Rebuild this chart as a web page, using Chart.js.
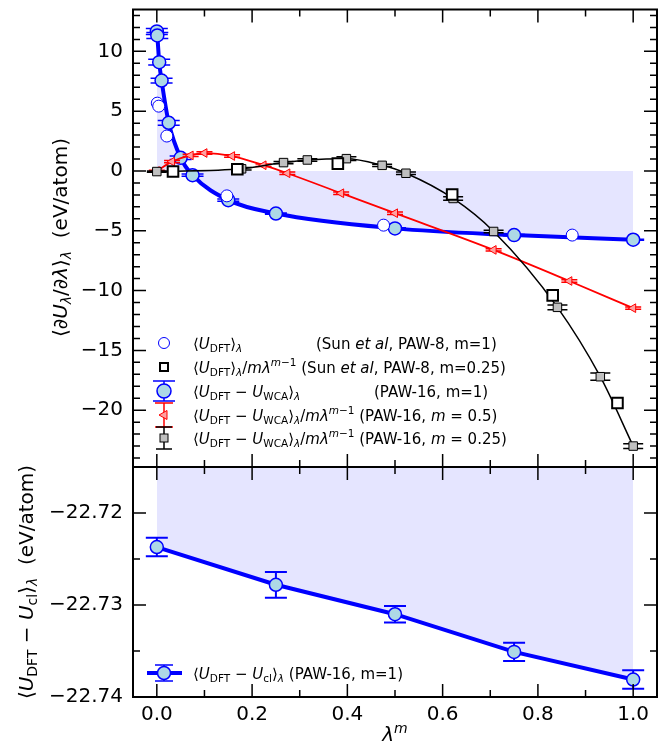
<!DOCTYPE html>
<html>
<head>
<meta charset="utf-8">
<script src="https://cdn.jsdelivr.net/npm/chart.js@4.4.1/dist/chart.umd.min.js"></script>
<style>
html, body { margin: 0; padding: 0; background: #fff; }
#wrap { position: relative; width: 671px; height: 746px; }
#top { position: absolute; left: 0; top: 0; }
#bot { position: absolute; left: 0; top: 440px; }
</style>
</head>
<body>
<div id="wrap">
  <canvas id="top" width="671" height="480"></canvas>
  <canvas id="bot" width="671" height="306"></canvas>
</div>
<script>
// ─── Data ─────────────────────────────────────────────────────
// x axis is lambda^m
const X_TICKS = [0, 0.2, 0.4, 0.6, 0.8, 1.0];
const X_MINOR = [0.1, 0.3, 0.5, 0.7, 0.9];
const TOP_Y_TICKS = [-20, -15, -10, -5, 0, 5, 10];
const BOT_Y_TICKS = [-22.74, -22.73, -22.72];
const BOT_Y_MINOR = [-22.735, -22.725];

// <U_DFT>_lambda, Sun et al, PAW-8, m=1 (open circles)
const SUN_M1_X = [0.001, 0.004, 0.021, 0.147, 0.476, 0.872];
const SUN_M1_Y = [5.67, 5.42, 2.92, -2.08, -4.53, -5.36];

// <U_DFT>/m lambda^(m-1), Sun et al, PAW-8, m=0.25 (open squares)
const SUN_M025_X = [0.034, 0.169, 0.38, 0.62, 0.831, 0.967];
const SUN_M025_Y = [-0.05, 0.14, 0.61, -1.97, -10.4, -19.4];

// <U_DFT - U_WCA>_lambda, PAW-16, m=1
const WCA_M1_X = [0, 0.001, 0.005, 0.01, 0.025, 0.05, 0.075, 0.15, 0.25, 0.5, 0.75, 1.0];
const WCA_M1_Y = [11.67, 11.33, 9.1, 7.56, 4.03, 1.1, -0.35, -2.44, -3.56, -4.8, -5.36, -5.75];
const WCA_M1_ERR = [0.25, 0.25, 0.25, 0.2, 0.2, 0.15, 0.1, 0.1, 0.05, 0.05, 0.05, 0.05];

// <U_DFT - U_WCA>/m lambda^(m-1), PAW-16, m=0.5
const WCA_M05_X = [0, 0.032, 0.071, 0.1, 0.158, 0.224, 0.274, 0.387, 0.5, 0.707, 0.866, 1.0];
const WCA_M05_Y = [0, 0.78, 1.3, 1.5, 1.25, 0.48, -0.19, -1.86, -3.53, -6.6, -9.2, -11.47];
const WCA_M05_ERR = [0.05, 0.1, 0.1, 0.1, 0.1, 0.1, 0.1, 0.1, 0.1, 0.1, 0.1, 0.1];

// <U_DFT - U_WCA>/m lambda^(m-1), PAW-16, m=0.25
const WCA_M025_X = [0, 0.178, 0.266, 0.316, 0.398, 0.473, 0.523, 0.622, 0.707, 0.841, 0.931, 1.0];
const WCA_M025_Y = [-0.05, 0.18, 0.7, 0.92, 1.03, 0.47, -0.19, -2.3, -5.06, -11.4, -17.2, -23.0];
const WCA_M025_ERR = [0.05, 0.1, 0.1, 0.1, 0.15, 0.1, 0.1, 0.15, 0.1, 0.2, 0.3, 0.2];

// shaded integral area, top panel
const FILL_X = [0, 0.01, 0.025, 0.05, 0.075, 0.15, 0.25, 0.5, 0.75, 1.0];
const FILL_Y = [6.9, 7.56, 4.03, 1.1, -0.35, -2.44, -3.56, -4.8, -5.36, -5.75];

// <U_DFT - U_cl>_lambda, PAW-16, m=1 (bottom panel)
const CL_X = [0, 0.25, 0.5, 0.75, 1.0];
const CL_Y = [-22.7237, -22.7278, -22.731, -22.7351, -22.7381];
const CL_ERR = [0.001, 0.0014, 0.0009, 0.001, 0.001];

// ─── Helpers ──────────────────────────────────────────────────
const FONT = "'DejaVu Sans'";
Chart.defaults.font.family = FONT;
const BLUE = '#0000ff', LIGHTBLUE = '#add8e6', RED = '#ff0000', PINK = '#ffa0a0', SILVER = '#c0c0c0';

const pts = (xs, ys) => xs.map((x, i) => ({ x, y: ys[i] }));
const minus = v => (v < 0 ? '\u2212' : '') + Math.abs(v);

function segFont(kind, size) {
    const small = kind.startsWith('sub') || kind.startsWith('sup');
    const it = kind === 'i' || kind === 'subi' || kind === 'supi';
    return (it ? 'italic ' : '') + (small ? size * 0.7 : size) + 'px ' + FONT;
}
function richWidth(ctx, segs, size) {
    let w = 0;
    for (const [t, k] of segs) { ctx.font = segFont(k || 'n', size); w += ctx.measureText(t).width; }
    return w;
}
function drawRich(ctx, segs, x, y, size, align) {
    let cx = align === 'center' ? x - richWidth(ctx, segs, size) / 2 : x;
    ctx.textAlign = 'left';
    ctx.textBaseline = 'alphabetic';
    ctx.fillStyle = '#000';
    for (const [t, k0] of segs) {
        const k = k0 || 'n';
        ctx.font = segFont(k, size);
        const dy = k.startsWith('sub') ? size * 0.22 : k.startsWith('sup') ? -size * 0.42 : 0;
        ctx.fillText(t, cx, y + dy);
        cx += ctx.measureText(t).width;
    }
}

// build once, see where the plot area landed, rebuild with corrected padding
function buildChart(canvas, makeConfig, pad, want) {
    const first = new Chart(canvas, makeConfig(pad));
    const a = first.chartArea;
    const fixed = {
        top: pad.top + want.top - a.top,
        bottom: pad.bottom + a.bottom - want.bottom,
        left: pad.left + want.left - a.left,
        right: pad.right + a.right - want.right
    };
    first.destroy();
    return new Chart(canvas, makeConfig(fixed));
}

// ─── Plugins ──────────────────────────────────────────────────
const errorBars = {
    id: 'errorBars',
    beforeDatasetDraw(chart, args) {
        const ds = chart.data.datasets[args.index];
        if (!ds.yErr) return;
        const { xScale, yScale } = args.meta;
        const ctx = chart.ctx;
        ctx.save();
        ctx.strokeStyle = ds.errColor;
        ctx.lineWidth = ds.errWidth;
        ds.data.forEach((p, i) => {
            const x = xScale.getPixelForValue(p.x);
            const y1 = yScale.getPixelForValue(p.y + ds.yErr[i]);
            const y2 = yScale.getPixelForValue(p.y - ds.yErr[i]);
            const c = ds.capHalf;
            ctx.beginPath();
            ctx.moveTo(x, y1); ctx.lineTo(x, y2);
            ctx.moveTo(x - c, y1); ctx.lineTo(x + c, y1);
            ctx.moveTo(x - c, y2); ctx.lineTo(x + c, y2);
            ctx.stroke();
        });
        ctx.restore();
    }
};

function framePlugin(xMaj, xMin, yMaj, yMin) {
    return {
        id: 'frame',
        afterDraw(chart) {
            const { ctx, chartArea: a } = chart;
            const x = chart.scales.x, y = chart.scales.y;
            ctx.save();
            ctx.strokeStyle = '#000';
            ctx.lineWidth = 1.5;
            const tick = (list, len, isX) => list.forEach(v => {
                ctx.beginPath();
                if (isX) {
                    const px = x.getPixelForValue(v);
                    ctx.moveTo(px, a.top); ctx.lineTo(px, a.top + len);
                    ctx.moveTo(px, a.bottom); ctx.lineTo(px, a.bottom - len);
                } else {
                    const py = y.getPixelForValue(v);
                    ctx.moveTo(a.left, py); ctx.lineTo(a.left + len, py);
                    ctx.moveTo(a.right, py); ctx.lineTo(a.right - len, py);
                }
                ctx.stroke();
            });
            tick(xMaj, 13, true); tick(xMin, 7, true);
            tick(yMaj, 13, false); tick(yMin, 7, false);
            ctx.lineWidth = 2;
            ctx.strokeRect(a.left, a.top, a.right - a.left, a.bottom - a.top);
            ctx.restore();
        }
    };
}

function capMarker(ctx, x, y, half, capHalf, color) {
    ctx.strokeStyle = color;
    ctx.lineWidth = 1.5;
    ctx.beginPath();
    ctx.moveTo(x, y - half); ctx.lineTo(x, y + half);
    ctx.moveTo(x - capHalf, y - half); ctx.lineTo(x + capHalf, y - half);
    ctx.moveTo(x - capHalf, y + half); ctx.lineTo(x + capHalf, y + half);
    ctx.stroke();
}

const U_DFT = [['\u27E8'], ['U', 'i'], ['DFT', 'sub'], ['\u27E9'], ['\u03BB', 'subi']];
const U_WCA = [['\u27E8'], ['U', 'i'], ['DFT', 'sub'], [' \u2212 '], ['U', 'i'], ['WCA', 'sub'], ['\u27E9'], ['\u03BB', 'subi']];
const OVER_M = [['/'], ['m', 'i'], ['\u03BB', 'i'], ['m', 'supi'], ['\u22121', 'sup']];

const legendTop = {
    id: 'legendTop',
    afterDraw(chart) {
        const ctx = chart.ctx;
        const mx = 164, tx = 193, size = 15;
        const rows = [
            { y: 343, text: U_DFT, note: [['(Sun '], ['et al', 'i'], [', PAW-8, m=1)']], nx: 316 },
            { y: 367, text: U_DFT.concat(OVER_M), note: [[' (Sun '], ['et al', 'i'], [', PAW-8, m=0.25)']], nx: null },
            { y: 391, text: U_WCA, note: [['(PAW-16, m=1)']], nx: 374 },
            { y: 415, text: U_WCA.concat(OVER_M), note: [[' (PAW-16, '], ['m', 'i'], [' = 0.5)']], nx: null },
            { y: 438, text: U_WCA.concat(OVER_M), note: [[' (PAW-16, '], ['m', 'i'], [' = 0.25)']], nx: null }
        ];
        ctx.save();
        // markers
        ctx.lineWidth = 1;
        ctx.strokeStyle = BLUE; ctx.fillStyle = '#fff';
        ctx.beginPath(); ctx.arc(mx, rows[0].y, 5.5, 0, Math.PI * 2); ctx.fill(); ctx.stroke();
        ctx.lineWidth = 2; ctx.strokeStyle = '#000';
        ctx.fillRect(mx - 4, rows[1].y - 4, 8, 8); ctx.strokeRect(mx - 4, rows[1].y - 4, 8, 8);
        capMarker(ctx, mx, rows[2].y, 10, 11, BLUE);
        ctx.lineWidth = 1.5; ctx.fillStyle = LIGHTBLUE; ctx.strokeStyle = BLUE;
        ctx.beginPath(); ctx.arc(mx, rows[2].y, 7, 0, Math.PI * 2); ctx.fill(); ctx.stroke();
        capMarker(ctx, mx, rows[3].y, 12, 9, RED);
        ctx.lineWidth = 1; ctx.fillStyle = PINK; ctx.strokeStyle = RED;
        ctx.beginPath();
        ctx.moveTo(mx - 5, rows[3].y); ctx.lineTo(mx + 3, rows[3].y - 4.5); ctx.lineTo(mx + 3, rows[3].y + 4.5);
        ctx.closePath(); ctx.fill(); ctx.stroke();
        capMarker(ctx, mx, rows[4].y, 11, 8, '#000');
        ctx.lineWidth = 1; ctx.fillStyle = SILVER; ctx.strokeStyle = '#000';
        ctx.fillRect(mx - 4, rows[4].y - 4, 8, 8); ctx.strokeRect(mx - 4, rows[4].y - 4, 8, 8);
        // labels
        for (const r of rows) {
            const base = r.y + 5.5;
            drawRich(ctx, r.text, tx, base, size, 'left');
            const nx = r.nx !== null ? r.nx : tx + richWidth(ctx, r.text, size);
            drawRich(ctx, r.note, nx, base, size, 'left');
        }
        ctx.restore();
    }
};

const titleTop = {
    id: 'titleTop',
    afterDraw(chart) {
        const ctx = chart.ctx;
        ctx.save();
        ctx.translate(67, 237.5);
        ctx.rotate(-Math.PI / 2);
        drawRich(ctx, [['\u27E8'], ['\u2202'], ['U', 'i'], ['\u03BB', 'subi'], ['/\u2202'], ['\u03BB', 'i'],
            ['\u27E9'], ['\u03BB', 'subi'], ['  (eV/atom)']], 0, 0, 20, 'center');
        ctx.restore();
    }
};

const decorBottom = {
    id: 'decorBottom',
    afterDraw(chart) {
        const ctx = chart.ctx;
        ctx.save();
        // y title
        ctx.save();
        ctx.translate(33, 142);
        ctx.rotate(-Math.PI / 2);
        drawRich(ctx, [['\u27E8'], ['U', 'i'], ['DFT', 'sub'], [' \u2212 '], ['U', 'i'], ['cl', 'sub'],
            ['\u27E9'], ['\u03BB', 'subi'], ['  (eV/atom)']], 0, 0, 20, 'center');
        ctx.restore();
        // x title
        drawRich(ctx, [['\u03BB', 'i'], ['m', 'supi']], 395, 301, 20, 'center');
        // legend
        const mx = 164, my = 233;
        ctx.strokeStyle = BLUE; ctx.lineWidth = 4;
        ctx.beginPath(); ctx.moveTo(147, my); ctx.lineTo(182, my); ctx.stroke();
        capMarker(ctx, mx, my, 8, 9, BLUE);
        ctx.lineWidth = 1.5; ctx.fillStyle = LIGHTBLUE; ctx.strokeStyle = BLUE;
        ctx.beginPath(); ctx.arc(mx, my, 6.5, 0, Math.PI * 2); ctx.fill(); ctx.stroke();
        drawRich(ctx, [['\u27E8'], ['U', 'i'], ['DFT', 'sub'], [' \u2212 '], ['U', 'i'], ['cl', 'sub'],
            ['\u27E9'], ['\u03BB', 'subi'], [' (PAW-16, m=1)']], 193, my + 5.5, 15, 'left');
        ctx.restore();
    }
};

// ─── Top panel ────────────────────────────────────────────────
const TOP_Y_MINOR = [];
for (let v = -24; v <= 13; v++) if (v % 5 !== 0) TOP_Y_MINOR.push(v);

const yAxisBase = () => ({
    type: 'linear',
    grid: { display: false, drawTicks: false },
    border: { display: false },
    afterFit: s => { s.width = 133; s.paddingTop = 0; s.paddingBottom = 0; }
});

const topConfig = pad => ({
    type: 'line',
    data: {
        datasets: [
            {
                data: pts(FILL_X, FILL_Y), fill: 'origin', backgroundColor: 'rgba(0,0,255,0.1)',
                borderWidth: 0, pointRadius: 0, cubicInterpolationMode: 'monotone', order: 5
            },
            {
                data: pts(WCA_M1_X, WCA_M1_Y), yErr: WCA_M1_ERR, errColor: BLUE, errWidth: 1.5, capHalf: 11,
                borderColor: BLUE, borderWidth: 4, pointRadius: 6.5, pointBackgroundColor: LIGHTBLUE,
                pointBorderColor: BLUE, pointBorderWidth: 1.5, cubicInterpolationMode: 'monotone', fill: false, order: 4
            },
            {
                data: pts(WCA_M05_X, WCA_M05_Y), yErr: WCA_M05_ERR, errColor: RED, errWidth: 1.5, capHalf: 8,
                borderColor: RED, borderWidth: 1.8, pointStyle: 'triangle', pointRotation: -90, pointRadius: 5,
                pointBackgroundColor: PINK, pointBorderColor: RED, pointBorderWidth: 1,
                cubicInterpolationMode: 'monotone', fill: false, order: 3
            },
            {
                data: pts(WCA_M025_X, WCA_M025_Y), yErr: WCA_M025_ERR, errColor: '#000', errWidth: 1.5, capHalf: 10,
                borderColor: '#000', borderWidth: 1.5, pointStyle: 'rect', pointRadius: 6,
                pointBackgroundColor: SILVER, pointBorderColor: '#000', pointBorderWidth: 1,
                cubicInterpolationMode: 'monotone', fill: false, order: 2
            },
            {
                data: pts(SUN_M1_X, SUN_M1_Y), showLine: false, pointRadius: 6, pointBackgroundColor: '#fff',
                pointBorderColor: BLUE, pointBorderWidth: 1, order: 1
            },
            {
                data: pts(SUN_M025_X, SUN_M025_Y), showLine: false, pointStyle: 'rect', pointRadius: 7.5,
                pointBackgroundColor: '#fff', pointBorderColor: '#000', pointBorderWidth: 2, order: 0
            }
        ]
    },
    options: {
        responsive: false, animation: false, events: [],
        layout: { padding: pad },
        plugins: { legend: { display: false }, tooltip: { enabled: false } },
        scales: {
            x: { type: 'linear', display: false, min: -0.05, max: 1.05 },
            y: {
                ...yAxisBase(), min: -24.75, max: 13.5,
                afterBuildTicks: s => { s.ticks = TOP_Y_TICKS.map(v => ({ value: v })); },
                ticks: { padding: 10, color: '#000', font: { size: 20 }, callback: v => minus(v) }
            }
        }
    },
    plugins: [errorBars, framePlugin(X_TICKS, X_MINOR, TOP_Y_TICKS, TOP_Y_MINOR), legendTop, titleTop]
});
buildChart(document.getElementById('top'), topConfig,
    { top: 8, right: 14, bottom: 13, left: 0 }, { top: 8, bottom: 467, left: 133, right: 657 });

// ─── Bottom panel ─────────────────────────────────────────────
const botConfig = pad => ({
    type: 'line',
    data: {
        datasets: [{
            data: pts(CL_X, CL_Y), yErr: CL_ERR, errColor: BLUE, errWidth: 2, capHalf: 11,
            fill: 'end', backgroundColor: 'rgba(0,0,255,0.1)',
            borderColor: BLUE, borderWidth: 4, pointRadius: 6.5, pointBackgroundColor: LIGHTBLUE,
            pointBorderColor: BLUE, pointBorderWidth: 1.5
        }]
    },
    options: {
        responsive: false, animation: false, events: [],
        layout: { padding: pad },
        plugins: { legend: { display: false }, tooltip: { enabled: false } },
        scales: {
            x: {
                type: 'linear', min: -0.05, max: 1.05,
                grid: { display: false, drawTicks: false }, border: { display: false },
                afterFit: s => { s.height = 49; s.paddingLeft = 0; s.paddingRight = 0; },
                afterBuildTicks: s => { s.ticks = X_TICKS.map(v => ({ value: v })); },
                ticks: { padding: 6, color: '#000', font: { size: 20 }, maxRotation: 0, autoSkip: false,
                    callback: v => v.toFixed(1) }
            },
            y: {
                ...yAxisBase(), min: -22.74, max: -22.715,
                afterBuildTicks: s => { s.ticks = BOT_Y_TICKS.map(v => ({ value: v })); },
                ticks: { padding: 10, color: '#000', font: { size: 20 }, callback: v => '\u2212' + Math.abs(v).toFixed(2) }
            }
        }
    },
    plugins: [errorBars, framePlugin(X_TICKS, X_MINOR, BOT_Y_TICKS, BOT_Y_MINOR), decorBottom]
});
buildChart(document.getElementById('bot'), botConfig,
    { top: 27, right: 14, bottom: 0, left: 0 }, { top: 27, bottom: 257, left: 133, right: 657 });
</script>
</body>
</html>
